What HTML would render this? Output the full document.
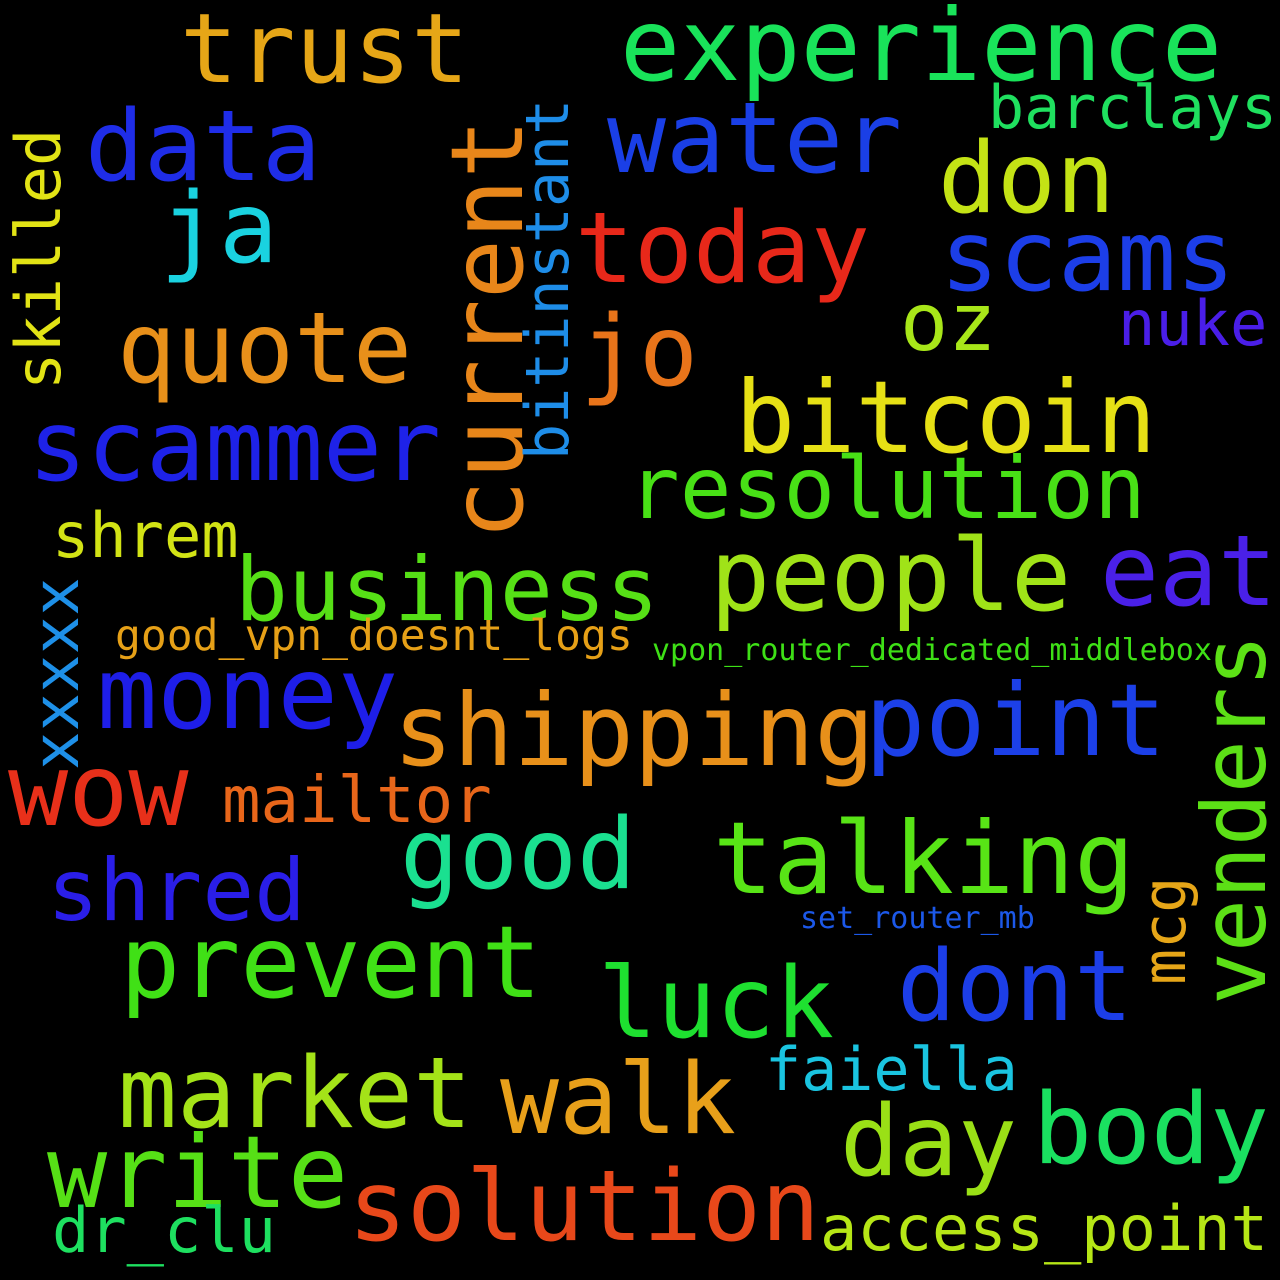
<!DOCTYPE html>
<html><head><meta charset="utf-8"><style>
html,body{margin:0;padding:0;background:#000}
svg{display:block}
text{font-family:"DejaVu Sans Mono","Liberation Mono",monospace}
</style></head><body>
<svg id="cloud" width="1280" height="1280" viewBox="0 0 1280 1280">
<rect width="1280" height="1280" fill="#000"/>
</svg>
<script>
const words=["trust","experience","data","water","barclays","don","ja","today","scams","current","bitinstant","skilled","quote","jo","oz","nuke","bitcoin","scammer","resolution","shrem","business","people","eat","xxxxx","good_vpn_doesnt_logs","vpon_router_dedicated_middlebox","money","shipping","point","venders","wow","mailtor","good","talking","mcg","shred","set_router_mb","prevent","luck","dont","faiella","market","walk","day","body","write","solution","dr_clu","access_point"];
const sizes=[96,100,98,98,60,98,98,98,98,100,60,62,98,98,80,62,100,98,86,62,88,100,98,64,43,30,100,100,100,88,100,64,98,100,60,86,30,100,98,98,60,98,98,98,98,100,98,62,62];
const xs=[180,620,85,607,988,938,160,575,940,522,568,60,117,580,900,1118,735,28,628,52,235,710,1100,78,115,652,97,393,865,1265,8,222,400,713,1185,47,800,120,598,897,765,118,500,840,1033,47,348,52,820];
const ys=[82,80,180,172,128,212,262,282,290,540,460,390,382,385,350,345,452,480,518,557,620,610,605,770,650,660,728,765,755,1005,825,822,888,893,985,920,928,997,1037,1020,1090,1127,1133,1175,1163,1207,1240,1252,1250];
const vertical=[0,0,0,0,0,0,0,0,0,1,1,1,0,0,0,0,0,0,0,0,0,0,0,1,0,0,0,0,0,1,0,0,0,0,1,0,0,0,0,0,0,0,0,0,0,0,0,0,0];
const colors=["#e6a617","#19e35a","#1f2de8","#1a3fe6","#1fe05f","#c4e315","#1ad2e0","#e8281a","#1c3ee8","#e8861a","#1e8de8","#e2e315","#e8901a","#e8741a","#a8e619","#4a1ee8","#e6e015","#1e22e8","#48e016","#d2e315","#56e016","#a0e318","#4a20e8","#1e90e8","#e6a017","#3ee016","#1e1ee8","#e8901a","#1c40e8","#5ce016","#e8301a","#e8661a","#1ae090","#58e416","#e6a618","#2a1ee8","#1c58e8","#40e016","#1ee030","#1c3ee8","#1ac4e0","#a4e318","#e8a01a","#9ae016","#1ae060","#56e016","#e8481a","#1ee060","#b6e616"];
const svg=document.getElementById('cloud');
const NS='http://www.w3.org/2000/svg';
for(let i=0;i<words.length;i++){
  const t=document.createElementNS(NS,'text');
  
  
  t.setAttribute('font-size',sizes[i]);
  t.setAttribute('fill',colors[i]);
  if(vertical[i]){
    t.setAttribute('transform','translate('+xs[i]+','+ys[i]+') rotate(-90)');
  }else{
    t.setAttribute('x',xs[i]);
    t.setAttribute('y',ys[i]);
  }
  t.textContent=words[i];
  svg.appendChild(t);
}
</script>
</body></html>
